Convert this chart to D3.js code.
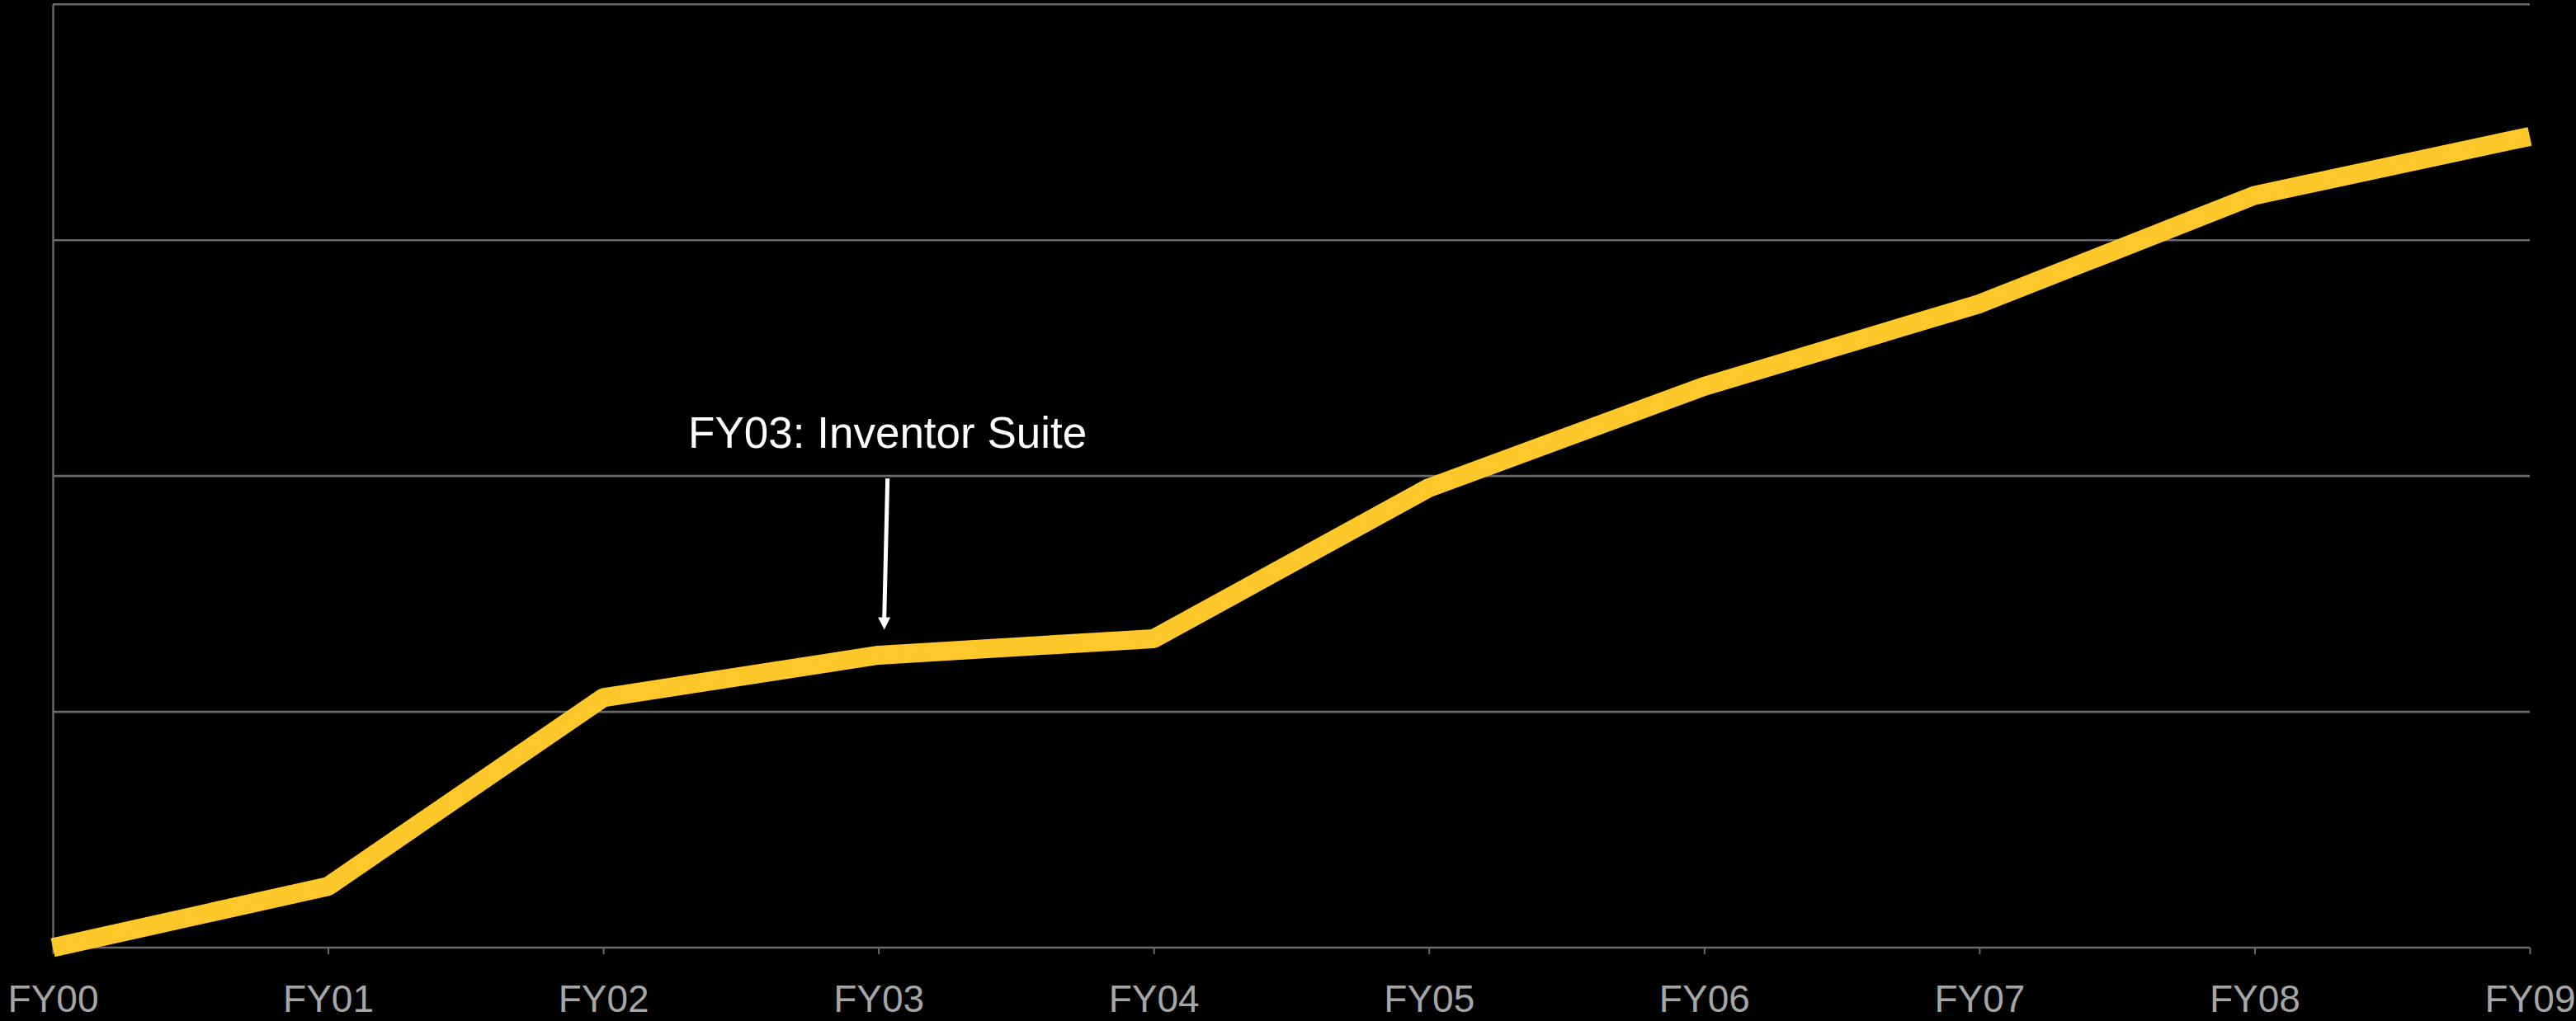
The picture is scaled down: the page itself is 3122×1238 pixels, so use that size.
<!DOCTYPE html>
<html>
<head>
<meta charset="utf-8">
<script src="https://cdn.jsdelivr.net/npm/d3@7"></script>
<style>
  body { margin: 0; background: #000; }
  svg { display: block; }
</style>
</head>
<body>
<svg id="chart" width="3122" height="1238"></svg>
<script>
// years along the bottom
var years = ["FY00", "FY01", "FY02", "FY03", "FY04", "FY05", "FY06", "FY07", "FY08", "FY09"];
// line values (no y labels on the chart, so in grid units)
var values = [0.0, 0.26, 1.06, 1.24, 1.31, 1.95, 2.38, 2.73, 3.19, 3.44];
// gridline levels
var gridLevels = [1, 2, 3, 4];
// the callout
var noteYear = "FY03";
var noteText = "FY03: Inventor Suite";

var svg = d3.select("#chart");
// note: "top" is a reserved window property, so use other names
var plotLeft = 64, plotRight = 3066, plotTop = 5.3, plotBottom = 1149;

var x = d3.scalePoint().domain(years).range([plotLeft, plotRight]);
var y = d3.scaleLinear().domain([0, 4]).range([plotBottom, plotTop]);

svg.append("rect")
    .attr("width", 3122).attr("height", 1238)
    .attr("fill", "#000");

// horizontal gridlines
svg.selectAll(".grid")
    .data(gridLevels)
    .enter().append("line")
    .attr("class", "grid")
    .attr("x1", plotLeft).attr("x2", plotRight)
    .attr("y1", function(d) { return y(d); })
    .attr("y2", function(d) { return y(d); })
    .attr("stroke", "#6a6a6a")
    .attr("stroke-width", 2.6);

// x axis with small ticks
var xAxis = d3.axisBottom(x).tickSize(8).tickPadding(37);
var gx = svg.append("g")
    .attr("transform", "translate(0," + plotBottom + ")")
    .call(xAxis);
gx.select(".domain")
    .attr("stroke", "#6a6a6a")
    .attr("stroke-width", 2.4)
    .attr("d", "M" + plotLeft + ",0H" + plotRight);
gx.selectAll(".tick line")
    .attr("stroke", "#6a6a6a")
    .attr("stroke-width", 2);
gx.selectAll(".tick text")
    .attr("fill", "#a6a6a6")
    .attr("font-family", "Liberation Sans, Arial, sans-serif")
    .attr("font-size", 46);

// left axis line only
var yAxis = d3.axisLeft(y).tickValues([]).tickSizeOuter(0);
svg.append("g")
    .attr("transform", "translate(" + plotLeft + ",0)")
    .call(yAxis)
    .select(".domain")
    .attr("stroke", "#6a6a6a")
    .attr("stroke-width", 2.4);

// the data line
var line = d3.line()
    .x(function(d, i) { return x(years[i]); })
    .y(function(d) { return y(d); });

svg.append("path")
    .datum(values)
    .attr("d", line)
    .attr("fill", "none")
    .attr("stroke", "#ffc82a")
    .attr("stroke-width", 23)
    .attr("stroke-linejoin", "bevel")
    .attr("stroke-linecap", "butt");

// callout arrow + text
var ni = years.indexOf(noteYear);
var tipX = x(noteYear) + 7;
var tipY = y(values[ni]) - 31;
var startX = tipX + 4;
var startY = y(2) + 3;

svg.append("line")
    .attr("x1", startX).attr("y1", startY)
    .attr("x2", tipX).attr("y2", tipY - 12)
    .attr("stroke", "#fff")
    .attr("stroke-width", 5);

svg.append("path")
    .attr("d", "M" + (tipX - 7.5) + "," + (tipY - 15) + "L" + (tipX + 7.5) + "," + (tipY - 15) + "L" + tipX + "," + tipY + "Z")
    .attr("fill", "#fff");

svg.append("text")
    .attr("x", startX)
    .attr("y", 543)
    .attr("text-anchor", "middle")
    .attr("fill", "#fff")
    .attr("font-family", "Liberation Sans, Arial, sans-serif")
    .attr("font-size", 53)
    .text(noteText);
</script>
</body>
</html>
